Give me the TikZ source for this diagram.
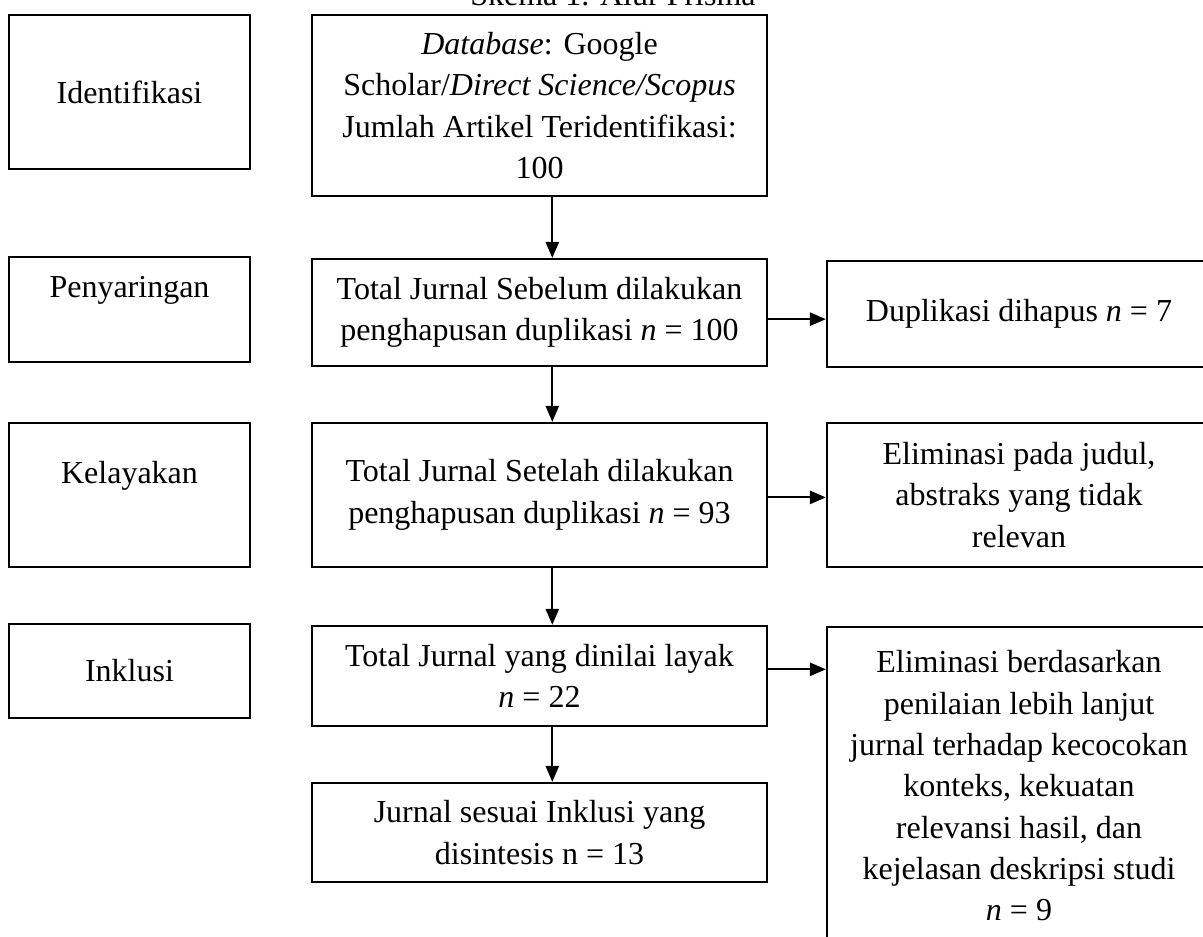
\documentclass[tikz,border=0pt]{standalone}
\usepackage{fontspec}
\setmainfont{Liberation Serif}
\usetikzlibrary{arrows.meta}
\tikzset{
  kotak/.style={draw, line width=0.9pt, align=center, inner sep=2pt,
    font=\fontsize{12pt}{15.5pt}\selectfont},
  tahap/.style={kotak, minimum width=90.4pt},
  utama/.style={kotak, minimum width=170.6pt},
  samping/.style={kotak, minimum width=144pt},
  panah/.style={-{Triangle[length=6pt,width=5pt]}, line width=0.7pt},
}
\begin{document}
\begin{tikzpicture}[x=0.375pt, y=-0.375pt]
  \useasboundingbox (0,0) rectangle (1203,937);
  \node[anchor=base, font=\fontsize{12pt}{15.5pt}\selectfont] (judul) at (613,6) {Skema 1. Alur Prisma};

  \node[tahap, minimum height=57.75pt] (idf) at (129.5,92) {Identifikasi};
  \node[tahap, minimum height=39.4pt, text depth=17pt] (pyr) at (129.5,309.5) {Penyaringan};
  \node[tahap, minimum height=54pt, text depth=17pt] (kly) at (129.5,495) {Kelayakan};
  \node[tahap, minimum height=35.25pt] (ink) at (129.5,671) {Inklusi};

  \node[utama, minimum height=67.9pt] (db) at (539.5,105.5)
    {\textit{Database}: Google\\ Scholar/\textit{Direct Science/Scopus}\\ Jumlah Artikel Teridentifikasi:\\ 100};
  \node[utama, minimum height=40.1pt] (sbl) at (539.5,312.5)
    {Total Jurnal Sebelum dilakukan\\ penghapusan duplikasi \textit{n} = 100};
  \node[utama, minimum height=54pt] (stl) at (539.5,495)
    {Total Jurnal Setelah dilakukan\\ penghapusan duplikasi \textit{n} = 93};
  \node[utama, minimum height=37.5pt] (lyk) at (539.5,676)
    {Total Jurnal yang dinilai layak\\ \textit{n} = 22};
  \node[utama, minimum height=37.1pt] (ssi) at (539.5,832.5)
    {Jurnal sesuai Inklusi yang\\ disintesis n = 13};

  \node[samping, minimum height=39.75pt] (dup) at (1019,314) {Duplikasi dihapus \textit{n} = 7};
  \node[samping, minimum height=54pt] (elj) at (1019,495)
    {Eliminasi pada judul,\\ abstraks yang tidak\\ relevan};
  \node[samping, minimum height=119.25pt] (elb) at (1019,786)
    {Eliminasi berdasarkan\\ penilaian lebih lanjut\\ jurnal terhadap kecocokan\\ konteks, kekuatan\\ relevansi hasil, dan\\ kejelasan deskripsi studi\\ \textit{n} = 9};

  \draw[panah] ([xshift=4.8pt]db.south) -- ([xshift=4.8pt]sbl.north);
  \draw[panah] ([xshift=4.8pt]sbl.south) -- ([xshift=4.8pt]stl.north);
  \draw[panah] ([xshift=4.8pt]stl.south) -- ([xshift=4.8pt]lyk.north);
  \draw[panah] ([xshift=4.8pt]lyk.south) -- ([xshift=4.8pt]ssi.north);

  \coordinate (p1) at ([yshift=-2.5pt]sbl.east);
  \coordinate (p2) at ([yshift=-0.9pt]stl.east);
  \coordinate (p3) at ([yshift=2.5pt]lyk.east);
  \draw[panah] (p1) -- (p1 -| dup.west);
  \draw[panah] (p2) -- (p2 -| elj.west);
  \draw[panah] (p3) -- (p3 -| elb.west);
\end{tikzpicture}
\end{document}
